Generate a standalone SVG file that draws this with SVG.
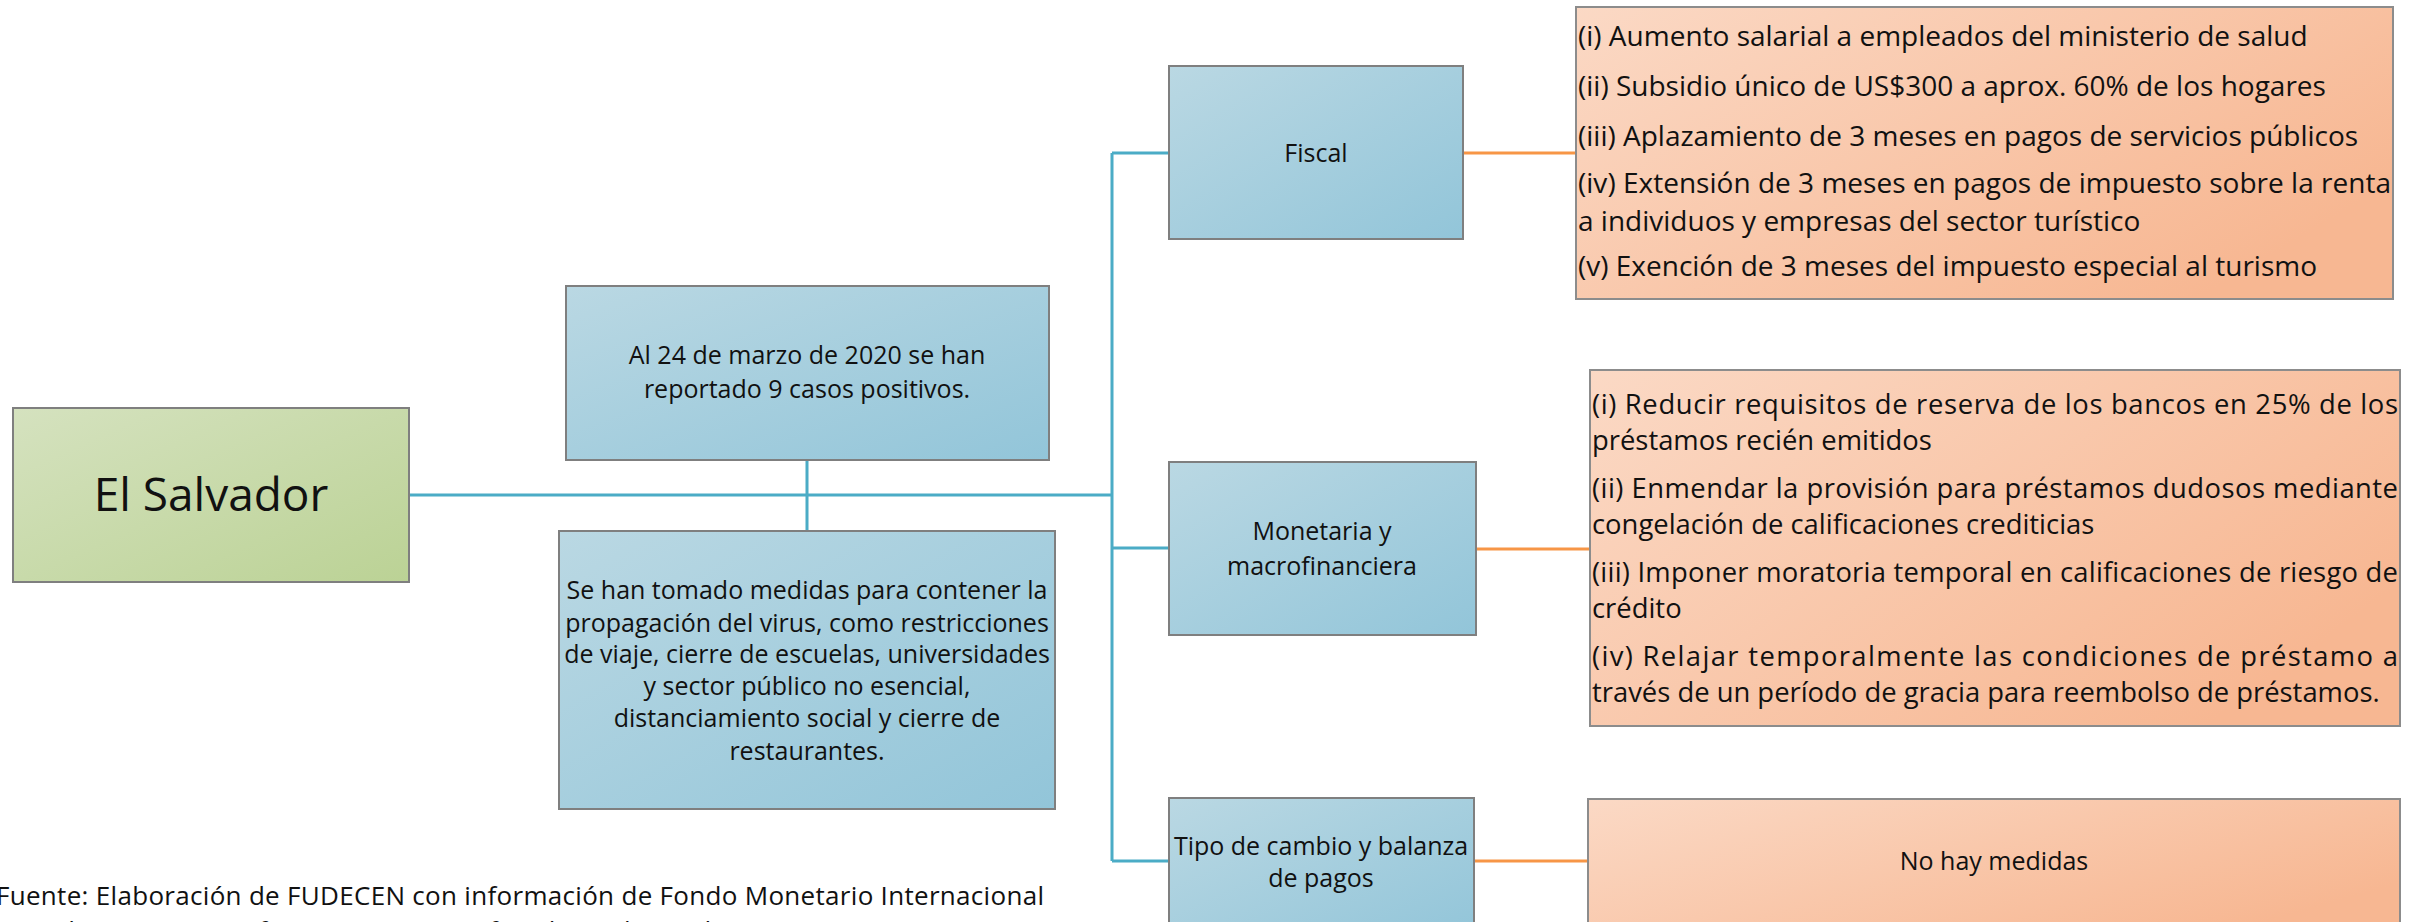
<svg xmlns="http://www.w3.org/2000/svg" width="2423" height="922" viewBox="0 0 2423 922">
<defs>
<linearGradient id="gBlue" x1="0" y1="0" x2="1" y2="1">
<stop offset="0" stop-color="#bad8e3"/><stop offset="1" stop-color="#92c5d9"/>
</linearGradient>
<linearGradient id="gGreen" x1="0" y1="0" x2="1" y2="1">
<stop offset="0" stop-color="#d5e2bf"/><stop offset="1" stop-color="#bbd295"/>
</linearGradient>
<linearGradient id="gOrange" x1="0" y1="0" x2="1" y2="0.6">
<stop offset="0" stop-color="#fbd9c5"/><stop offset="1" stop-color="#f7b792"/>
</linearGradient>
<style>
.box{stroke:#7f7f7f;stroke-width:2}
.blue{fill:url(#gBlue)}
.green{fill:url(#gGreen)}
.orange{fill:url(#gOrange);stroke:#8c8c8c}
.t{font-family:"Open Sans","Noto Sans","Liberation Sans",sans-serif;font-weight:400;fill:#111}
.c{text-anchor:middle;font-size:25px}
.l{font-size:28px}
.m{font-size:27.4px}
.cb{stroke:#4bacc6;stroke-width:3;fill:none}
.co{stroke:#f79646;stroke-width:3;fill:none}
</style>
</defs>
<g id="connectors">
<path class="cb" d="M409 495 H1112 M807 460 V531 M1112 153 V861 M1112 153 H1169 M1112 548 H1169 M1112 861 H1169"/>
<path class="co" d="M1463 153 H1576 M1476 549 H1590 M1474 861 H1588"/>
</g>
<g id="el-salvador">
<rect class="box green" x="13" y="408" width="396" height="174"/>
<text class="t" x="211" y="511" text-anchor="middle" font-size="46">El Salvador</text>
</g>
<g id="casos">
<rect class="box blue" x="566" y="286" width="483" height="174"/>
<text class="t c" x="807" y="364">Al 24 de marzo de 2020 se han</text>
<text class="t c" x="807" y="398">reportado 9 casos positivos.</text>
</g>
<g id="medidas">
<rect class="box blue" x="559" y="531" width="496" height="278"/>
<text class="t c" x="807" y="599">Se han tomado medidas para contener la</text>
<text class="t c" x="807" y="632">propagación del virus, como restricciones</text>
<text class="t c" x="807" y="663">de viaje, cierre de escuelas, universidades</text>
<text class="t c" x="807" y="695">y sector público no esencial,</text>
<text class="t c" x="807" y="727">distanciamiento social y cierre de</text>
<text class="t c" x="807" y="760">restaurantes.</text>
</g>
<g id="fiscal">
<rect class="box blue" x="1169" y="66" width="294" height="173"/>
<text class="t c" x="1316" y="162">Fiscal</text>
</g>
<g id="monetaria">
<rect class="box blue" x="1169" y="462" width="307" height="173"/>
<text class="t c" x="1322" y="540">Monetaria y</text>
<text class="t c" x="1322" y="575">macrofinanciera</text>
</g>
<g id="tipo">
<rect class="box blue" x="1169" y="798" width="305" height="140"/>
<text class="t c" x="1321" y="855">Tipo de cambio y balanza</text>
<text class="t c" x="1321" y="887">de pagos</text>
</g>
<g id="fiscal-medidas">
<rect class="box orange" x="1576" y="7" width="817" height="292"/>
<text class="t l" x="1578" y="46">(i) Aumento salarial a empleados del ministerio de salud</text>
<text class="t l" x="1578" y="96">(ii) Subsidio único de US$300 a aprox. 60% de los hogares</text>
<text class="t l" x="1578" y="146">(iii) Aplazamiento de 3 meses en pagos de servicios públicos</text>
<text class="t l" x="1578" y="193" textLength="813" lengthAdjust="spacing">(iv) Extensión de 3 meses en pagos de impuesto sobre la renta</text>
<text class="t l" x="1578" y="231">a individuos y empresas del sector turístico</text>
<text class="t l" x="1578" y="276">(v) Exención de 3 meses del impuesto especial al turismo</text>
</g>
<g id="monetaria-medidas">
<rect class="box orange" x="1590" y="370" width="810" height="356"/>
<text class="t m" x="1592" y="414" textLength="806" lengthAdjust="spacing">(i) Reducir requisitos de reserva de los bancos en 25% de los</text>
<text class="t m" x="1592" y="450">préstamos recién emitidos</text>
<text class="t m" x="1592" y="498" textLength="806" lengthAdjust="spacing">(ii) Enmendar la provisión para préstamos dudosos mediante</text>
<text class="t m" x="1592" y="534">congelación de calificaciones crediticias</text>
<text class="t m" x="1592" y="582" textLength="806" lengthAdjust="spacing">(iii) Imponer moratoria temporal en calificaciones de riesgo de</text>
<text class="t m" x="1592" y="618">crédito</text>
<text class="t m" x="1592" y="666" textLength="806" lengthAdjust="spacing">(iv) Relajar temporalmente las condiciones de préstamo a</text>
<text class="t m" x="1592" y="702">través de un período de gracia para reembolso de préstamos.</text>
</g>
<g id="tipo-medidas">
<rect class="box orange" x="1588" y="799" width="812" height="140"/>
<text class="t c" x="1994" y="870">No hay medidas</text>
</g>
<g id="fuente">
<text class="t" x="-4" y="905" font-size="26" textLength="1048" lengthAdjust="spacing">Fuente: Elaboración de FUDECEN con información de Fondo Monetario Internacional</text>
<text class="t" x="-4" y="940" font-size="26" font-style="italic" textLength="1048" lengthAdjust="spacing">(FMI) https://www.imf.org/en/Topics/imf-and-covid19/Policy-Responses-to-COVID-19</text>
</g>
</svg>
